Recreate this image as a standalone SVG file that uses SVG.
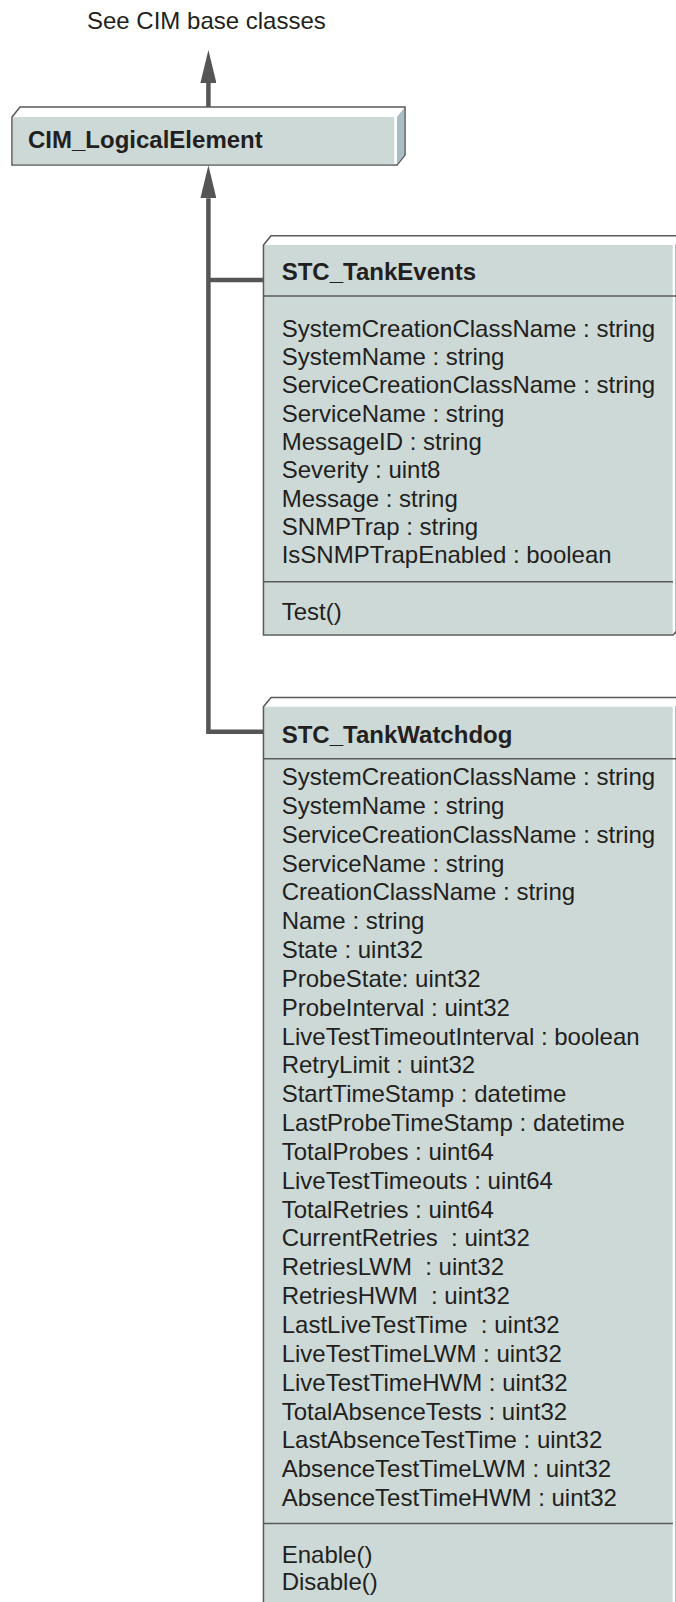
<svg xmlns="http://www.w3.org/2000/svg" width="676" height="1602" viewBox="0 0 676 1602">
<style>
text{font-family:"Liberation Sans",Arial,Helvetica,sans-serif;font-size:24px;fill:#231f20;white-space:pre}
.t{font-weight:bold}
.edge{fill:none;stroke:#5a5a5a;stroke-width:1.6}
.bg{fill:#ffffff;stroke:#5a5a5a;stroke-width:1.6}
.face{fill:#cdd9d6}
.side{fill:#a9bdc4}
.div{stroke:#5a5a5a;stroke-width:1.6;fill:none}
.conn{stroke:#555555;stroke-width:4.5;fill:none}
</style>
<defs>
<marker id="arr" viewBox="0 -8 33 16" markerWidth="33" markerHeight="16" refX="0" refY="0" orient="auto" markerUnits="userSpaceOnUse">
<path d="M0,-8 L33,0 L0,8 Z" fill="#555555"/>
</marker>
</defs>
<rect width="676" height="1602" fill="#ffffff"/>
<g id="label-base">
<text x="87" y="29">See CIM base classes</text>
</g>
<g id="connectors">
<path class="conn" d="M208.4,107 V83" marker-end="url(#arr)"/>
<path class="conn" d="M263.5,731.7 H208.4 V198.3" marker-end="url(#arr)"/>
<path class="conn" d="M208.4,280 H263.5"/>
</g>
<g id="CIM_LogicalElement">
<path class="bg" d="M12,117 L20,107 H405 V155 L397,165 H12 Z"/>
<rect class="face" x="12.8" y="117" width="381.5" height="47.2"/>
<path class="side" d="M397,117 L404.2,108 V155 L397,164.2 Z"/>
<text class="t" x="28" y="148">CIM_LogicalElement</text>
</g>
<g id="STC_TankEvents">
<rect class="face" x="264.3" y="245" width="408.4" height="389.2"/>
<path class="side" d="M675,245 L684,236.5 V625 L675,634 Z"/>
<path class="edge" d="M683,625 L673,635 H263.5 V245 L271,235.7 H690"/>
<line class="div" x1="263.5" y1="296" x2="676" y2="296"/>
<line class="div" x1="263.5" y1="581.7" x2="673" y2="581.7"/>
<text class="t" x="281.7" y="280">STC_TankEvents</text>
<text x="281.7" y="336.7">SystemCreationClassName : string</text>
<text x="281.7" y="365">SystemName : string</text>
<text x="281.7" y="393.3">ServiceCreationClassName : string</text>
<text x="281.7" y="421.6">ServiceName : string</text>
<text x="281.7" y="449.9">MessageID : string</text>
<text x="281.7" y="478.2">Severity : uint8</text>
<text x="281.7" y="506.5">Message : string</text>
<text x="281.7" y="534.8">SNMPTrap : string</text>
<text x="281.7" y="563.1">IsSNMPTrapEnabled : boolean</text>
<text x="281.7" y="620">Test()</text>
</g>
<g id="STC_TankWatchdog">
<rect class="face" x="264.3" y="706.7" width="408.4" height="900"/>
<path class="side" d="M675,706.7 L684,698.3 V1610 H675 Z"/>
<path class="edge" d="M263.5,1610 V706.7 L271,697.5 H690"/>
<line class="div" x1="263.5" y1="758.7" x2="676" y2="758.7"/>
<line class="div" x1="263.5" y1="1523.5" x2="673" y2="1523.5"/>
<text class="t" x="281.7" y="743.3">STC_TankWatchdog</text>
<text x="281.7" y="785">SystemCreationClassName : string</text>
<text x="281.7" y="813.8">SystemName : string</text>
<text x="281.7" y="842.7">ServiceCreationClassName : string</text>
<text x="281.7" y="871.5">ServiceName : string</text>
<text x="281.7" y="900.4">CreationClassName : string</text>
<text x="281.7" y="929.2">Name : string</text>
<text x="281.7" y="958">State : uint32</text>
<text x="281.7" y="986.9">ProbeState: uint32</text>
<text x="281.7" y="1015.7">ProbeInterval : uint32</text>
<text x="281.7" y="1044.6">LiveTestTimeoutInterval : boolean</text>
<text x="281.7" y="1073.4">RetryLimit : uint32</text>
<text x="281.7" y="1102.2">StartTimeStamp : datetime</text>
<text x="281.7" y="1131.1">LastProbeTimeStamp : datetime</text>
<text x="281.7" y="1159.9">TotalProbes : uint64</text>
<text x="281.7" y="1188.8">LiveTestTimeouts : uint64</text>
<text x="281.7" y="1217.6">TotalRetries : uint64</text>
<text x="281.7" y="1246.4">CurrentRetries  : uint32</text>
<text x="281.7" y="1275.3">RetriesLWM  : uint32</text>
<text x="281.7" y="1304.1">RetriesHWM  : uint32</text>
<text x="281.7" y="1333">LastLiveTestTime  : uint32</text>
<text x="281.7" y="1361.8">LiveTestTimeLWM : uint32</text>
<text x="281.7" y="1390.6">LiveTestTimeHWM : uint32</text>
<text x="281.7" y="1419.5">TotalAbsenceTests : uint32</text>
<text x="281.7" y="1448.3">LastAbsenceTestTime : uint32</text>
<text x="281.7" y="1477.2">AbsenceTestTimeLWM : uint32</text>
<text x="281.7" y="1506">AbsenceTestTimeHWM : uint32</text>
<text x="281.7" y="1563">Enable()</text>
<text x="281.7" y="1590">Disable()</text>
</g>
</svg>
